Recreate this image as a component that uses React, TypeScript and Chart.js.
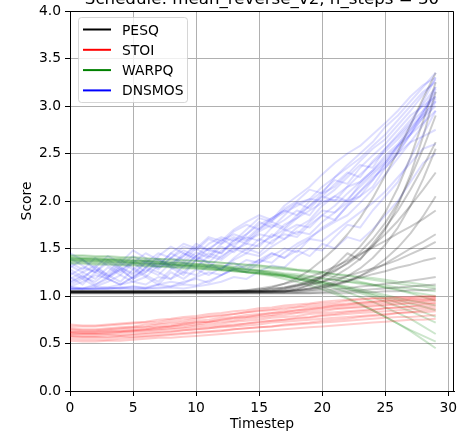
import React, { useEffect, useRef } from "react";
import { Chart, registerables } from "chart.js";

Chart.register(...registerables);

const TITLE = "Schedule: mean_reverse_v2, n_steps = 30";
const X_LABEL = "Timestep";
const Y_LABEL = "Score";
const METRICS = ["PESQ", "STOI", "WARPQ", "DNSMOS"];

const TIMESTEPS = [0, 1, 2, 3, 4, 5, 6, 7, 8, 9, 10, 11, 12, 13, 14, 15, 16, 17, 18, 19, 20, 21, 22, 23, 24, 25, 26, 27, 28, 29];

const PESQ_RUNS = [
  [1.04, 1.04, 1.04, 1.04, 1.04, 1.04, 1.04, 1.04, 1.04, 1.05, 1.05, 1.05, 1.05, 1.05, 1.05, 1.06, 1.09, 1.13, 1.19, 1.27, 1.38, 1.5, 1.65, 1.82, 2.03, 2.27, 2.52, 2.8, 3.08, 3.35],
  [1.04, 1.04, 1.04, 1.04, 1.04, 1.04, 1.04, 1.04, 1.04, 1.04, 1.04, 1.04, 1.05, 1.05, 1.05, 1.05, 1.06, 1.08, 1.11, 1.15, 1.21, 1.29, 1.39, 1.52, 1.68, 1.88, 2.14, 2.46, 2.84, 3.25],
  [1.05, 1.05, 1.05, 1.05, 1.05, 1.05, 1.05, 1.05, 1.05, 1.05, 1.05, 1.05, 1.05, 1.05, 1.05, 1.05, 1.05, 1.06, 1.08, 1.11, 1.15, 1.21, 1.29, 1.39, 1.52, 1.7, 1.95, 2.28, 2.68, 3.15],
  [1.04, 1.04, 1.04, 1.04, 1.04, 1.04, 1.04, 1.04, 1.04, 1.04, 1.04, 1.04, 1.04, 1.04, 1.04, 1.04, 1.05, 1.07, 1.1, 1.14, 1.19, 1.26, 1.35, 1.46, 1.6, 1.77, 1.98, 2.24, 2.55, 2.9],
  [1.05, 1.05, 1.05, 1.05, 1.05, 1.05, 1.05, 1.05, 1.05, 1.05, 1.05, 1.05, 1.05, 1.05, 1.05, 1.05, 1.05, 1.05, 1.06, 1.08, 1.11, 1.15, 1.21, 1.29, 1.4, 1.54, 1.72, 1.95, 2.23, 2.55],
  [1.04, 1.04, 1.04, 1.04, 1.04, 1.04, 1.04, 1.04, 1.04, 1.04, 1.04, 1.04, 1.04, 1.04, 1.04, 1.05, 1.07, 1.09, 1.12, 1.16, 1.21, 1.27, 1.34, 1.43, 1.53, 1.65, 1.79, 1.95, 2.12, 2.3],
  [1.05, 1.05, 1.05, 1.05, 1.05, 1.05, 1.05, 1.05, 1.05, 1.05, 1.05, 1.05, 1.05, 1.05, 1.05, 1.05, 1.05, 1.05, 1.05, 1.06, 1.08, 1.11, 1.15, 1.21, 1.29, 1.39, 1.51, 1.66, 1.84, 2.05],
  [1.04, 1.04, 1.04, 1.04, 1.04, 1.04, 1.04, 1.04, 1.04, 1.04, 1.04, 1.04, 1.04, 1.05, 1.06, 1.08, 1.1, 1.13, 1.16, 1.2, 1.25, 1.31, 1.37, 1.44, 1.51, 1.58, 1.66, 1.73, 1.81, 1.9],
  [1.05, 1.05, 1.05, 1.05, 1.05, 1.05, 1.05, 1.05, 1.05, 1.05, 1.05, 1.05, 1.05, 1.05, 1.05, 1.05, 1.05, 1.05, 1.06, 1.07, 1.09, 1.12, 1.16, 1.21, 1.27, 1.34, 1.42, 1.5, 1.57, 1.65],
  [1.04, 1.04, 1.04, 1.04, 1.04, 1.04, 1.04, 1.04, 1.04, 1.04, 1.04, 1.04, 1.04, 1.04, 1.04, 1.04, 1.04, 1.05, 1.06, 1.08, 1.1, 1.13, 1.16, 1.19, 1.23, 1.26, 1.3, 1.33, 1.37, 1.4],
  [1.04, 1.04, 1.04, 1.04, 1.04, 1.04, 1.04, 1.04, 1.04, 1.04, 1.04, 1.04, 1.04, 1.04, 1.04, 1.04, 1.04, 1.04, 1.04, 1.05, 1.06, 1.07, 1.08, 1.1, 1.11, 1.13, 1.14, 1.16, 1.18, 1.2],
  [1.03, 1.03, 1.03, 1.03, 1.03, 1.03, 1.03, 1.03, 1.03, 1.03, 1.03, 1.03, 1.03, 1.03, 1.03, 1.03, 1.03, 1.03, 1.03, 1.03, 1.04, 1.05, 1.05, 1.06, 1.07, 1.08, 1.09, 1.1, 1.11, 1.12],
  [1.03, 1.03, 1.03, 1.03, 1.03, 1.03, 1.03, 1.03, 1.03, 1.03, 1.03, 1.03, 1.03, 1.03, 1.03, 1.03, 1.03, 1.03, 1.03, 1.03, 1.03, 1.03, 1.03, 1.04, 1.04, 1.05, 1.05, 1.06, 1.06, 1.07],
  [1.04, 1.04, 1.04, 1.04, 1.04, 1.04, 1.04, 1.04, 1.04, 1.04, 1.04, 1.04, 1.04, 1.04, 1.04, 1.04, 1.04, 1.04, 1.07, 1.12, 1.2, 1.32, 1.45, 1.38, 1.55, 1.72, 1.9, 2.12, 2.36, 2.62],
  [1.05, 1.05, 1.05, 1.05, 1.05, 1.05, 1.05, 1.05, 1.05, 1.05, 1.05, 1.05, 1.05, 1.05, 1.06, 1.07, 1.08, 1.09, 1.11, 1.13, 1.15, 1.18, 1.21, 1.25, 1.29, 1.33, 1.38, 1.44, 1.5, 1.57],
];

const STOI_RUNS = [
  [0.62, 0.61, 0.61, 0.62, 0.63, 0.64, 0.65, 0.67, 0.68, 0.7, 0.72, 0.73, 0.75, 0.77, 0.78, 0.8, 0.82, 0.83, 0.85, 0.87, 0.88, 0.9, 0.91, 0.93, 0.94, 0.95, 0.96, 0.97, 0.97, 0.98],
  [0.68, 0.68, 0.68, 0.69, 0.7, 0.71, 0.72, 0.73, 0.75, 0.76, 0.77, 0.79, 0.8, 0.81, 0.83, 0.84, 0.85, 0.86, 0.88, 0.89, 0.9, 0.91, 0.92, 0.93, 0.94, 0.95, 0.95, 0.96, 0.96, 0.97],
  [0.58, 0.57, 0.57, 0.57, 0.58, 0.59, 0.6, 0.61, 0.62, 0.64, 0.65, 0.66, 0.68, 0.69, 0.71, 0.72, 0.74, 0.75, 0.77, 0.78, 0.8, 0.81, 0.83, 0.84, 0.85, 0.87, 0.88, 0.89, 0.91, 0.92],
  [0.64, 0.63, 0.63, 0.64, 0.65, 0.66, 0.67, 0.68, 0.69, 0.71, 0.72, 0.73, 0.75, 0.76, 0.78, 0.79, 0.8, 0.82, 0.83, 0.85, 0.86, 0.87, 0.88, 0.89, 0.9, 0.91, 0.92, 0.93, 0.94, 0.95],
  [0.55, 0.54, 0.54, 0.54, 0.55, 0.56, 0.57, 0.58, 0.59, 0.6, 0.61, 0.62, 0.63, 0.65, 0.66, 0.67, 0.68, 0.7, 0.71, 0.72, 0.74, 0.75, 0.76, 0.78, 0.79, 0.8, 0.82, 0.83, 0.85, 0.86],
  [0.6, 0.6, 0.6, 0.61, 0.62, 0.63, 0.64, 0.65, 0.66, 0.67, 0.69, 0.7, 0.71, 0.73, 0.74, 0.75, 0.77, 0.78, 0.79, 0.81, 0.82, 0.83, 0.84, 0.85, 0.86, 0.87, 0.88, 0.89, 0.89, 0.9],
  [0.66, 0.65, 0.65, 0.66, 0.67, 0.68, 0.7, 0.71, 0.73, 0.74, 0.76, 0.78, 0.79, 0.81, 0.83, 0.85, 0.86, 0.88, 0.89, 0.91, 0.92, 0.93, 0.95, 0.96, 0.97, 0.97, 0.98, 0.98, 0.99, 0.99],
  [0.57, 0.56, 0.56, 0.56, 0.57, 0.57, 0.58, 0.59, 0.6, 0.61, 0.62, 0.63, 0.64, 0.65, 0.66, 0.67, 0.68, 0.69, 0.7, 0.71, 0.72, 0.73, 0.74, 0.75, 0.76, 0.77, 0.78, 0.78, 0.79, 0.8],
  [0.62, 0.62, 0.62, 0.63, 0.63, 0.64, 0.65, 0.66, 0.68, 0.69, 0.7, 0.72, 0.73, 0.74, 0.76, 0.77, 0.79, 0.8, 0.82, 0.83, 0.84, 0.86, 0.87, 0.88, 0.89, 0.9, 0.91, 0.92, 0.92, 0.93],
  [0.53, 0.52, 0.52, 0.53, 0.53, 0.54, 0.55, 0.56, 0.56, 0.57, 0.58, 0.59, 0.6, 0.61, 0.62, 0.63, 0.64, 0.65, 0.66, 0.67, 0.68, 0.69, 0.7, 0.71, 0.72, 0.73, 0.74, 0.75, 0.75, 0.76],
  [0.7, 0.69, 0.69, 0.7, 0.71, 0.72, 0.73, 0.75, 0.76, 0.78, 0.79, 0.81, 0.82, 0.84, 0.85, 0.87, 0.88, 0.9, 0.91, 0.92, 0.94, 0.95, 0.96, 0.97, 0.98, 0.98, 0.99, 0.99, 1.0, 1.0],
  [0.61, 0.6, 0.6, 0.6, 0.61, 0.62, 0.63, 0.64, 0.65, 0.66, 0.67, 0.68, 0.69, 0.7, 0.71, 0.73, 0.74, 0.75, 0.76, 0.77, 0.79, 0.8, 0.81, 0.82, 0.83, 0.84, 0.85, 0.86, 0.87, 0.88],
  [0.59, 0.58, 0.58, 0.59, 0.59, 0.6, 0.61, 0.62, 0.63, 0.64, 0.65, 0.66, 0.67, 0.68, 0.69, 0.7, 0.72, 0.73, 0.74, 0.75, 0.76, 0.77, 0.78, 0.79, 0.8, 0.81, 0.82, 0.83, 0.83, 0.84],
  [0.65, 0.64, 0.64, 0.65, 0.66, 0.67, 0.68, 0.7, 0.71, 0.72, 0.74, 0.75, 0.77, 0.78, 0.8, 0.81, 0.82, 0.84, 0.85, 0.86, 0.88, 0.89, 0.9, 0.91, 0.92, 0.93, 0.94, 0.95, 0.95, 0.96],
];

const WARPQ_RUNS = [
  [1.42, 1.42, 1.41, 1.41, 1.4, 1.4, 1.39, 1.39, 1.38, 1.37, 1.37, 1.36, 1.35, 1.34, 1.33, 1.32, 1.31, 1.3, 1.28, 1.27, 1.25, 1.23, 1.21, 1.19, 1.17, 1.15, 1.13, 1.11, 1.1, 1.08],
  [1.4, 1.4, 1.39, 1.39, 1.38, 1.37, 1.37, 1.36, 1.35, 1.34, 1.33, 1.32, 1.31, 1.29, 1.28, 1.26, 1.24, 1.21, 1.18, 1.14, 1.1, 1.04, 0.98, 0.92, 0.85, 0.78, 0.71, 0.63, 0.54, 0.45],
  [1.38, 1.38, 1.37, 1.37, 1.36, 1.35, 1.35, 1.34, 1.33, 1.32, 1.31, 1.3, 1.29, 1.28, 1.26, 1.25, 1.23, 1.21, 1.18, 1.15, 1.12, 1.08, 1.04, 0.99, 0.94, 0.88, 0.82, 0.76, 0.68, 0.6],
  [1.36, 1.36, 1.35, 1.35, 1.34, 1.34, 1.33, 1.32, 1.31, 1.31, 1.3, 1.29, 1.28, 1.27, 1.25, 1.24, 1.22, 1.2, 1.18, 1.16, 1.13, 1.11, 1.08, 1.05, 1.02, 0.99, 0.96, 0.92, 0.89, 0.85],
  [1.43, 1.43, 1.42, 1.42, 1.41, 1.41, 1.4, 1.39, 1.39, 1.38, 1.37, 1.36, 1.35, 1.34, 1.33, 1.32, 1.3, 1.29, 1.27, 1.25, 1.23, 1.2, 1.18, 1.15, 1.12, 1.09, 1.06, 1.03, 0.99, 0.95],
  [1.34, 1.34, 1.33, 1.33, 1.32, 1.32, 1.31, 1.31, 1.3, 1.29, 1.29, 1.28, 1.27, 1.26, 1.25, 1.24, 1.23, 1.22, 1.21, 1.2, 1.18, 1.17, 1.15, 1.14, 1.12, 1.11, 1.09, 1.08, 1.06, 1.05],
  [1.39, 1.39, 1.38, 1.38, 1.37, 1.36, 1.36, 1.35, 1.34, 1.33, 1.32, 1.31, 1.3, 1.29, 1.27, 1.26, 1.24, 1.22, 1.19, 1.17, 1.14, 1.1, 1.07, 1.03, 0.99, 0.94, 0.89, 0.84, 0.78, 0.72],
  [1.41, 1.4, 1.4, 1.39, 1.39, 1.38, 1.37, 1.37, 1.36, 1.35, 1.34, 1.33, 1.32, 1.3, 1.29, 1.27, 1.25, 1.23, 1.21, 1.18, 1.15, 1.12, 1.09, 1.05, 1.01, 0.97, 0.93, 0.88, 0.83, 0.78],
  [1.37, 1.37, 1.36, 1.36, 1.35, 1.35, 1.34, 1.34, 1.33, 1.32, 1.32, 1.31, 1.3, 1.29, 1.28, 1.27, 1.26, 1.24, 1.23, 1.21, 1.19, 1.17, 1.15, 1.13, 1.11, 1.09, 1.07, 1.04, 1.02, 1.0],
  [1.35, 1.35, 1.34, 1.34, 1.33, 1.33, 1.32, 1.31, 1.31, 1.3, 1.29, 1.28, 1.27, 1.26, 1.25, 1.24, 1.22, 1.21, 1.19, 1.17, 1.15, 1.12, 1.1, 1.07, 1.04, 1.01, 0.98, 0.95, 0.93, 0.9],
  [1.4, 1.39, 1.39, 1.38, 1.38, 1.37, 1.37, 1.36, 1.35, 1.35, 1.34, 1.33, 1.32, 1.31, 1.31, 1.3, 1.29, 1.28, 1.27, 1.26, 1.25, 1.23, 1.22, 1.2, 1.19, 1.17, 1.15, 1.14, 1.12, 1.1],
  [1.38, 1.37, 1.37, 1.36, 1.36, 1.35, 1.34, 1.34, 1.33, 1.32, 1.31, 1.3, 1.28, 1.27, 1.25, 1.23, 1.21, 1.18, 1.15, 1.11, 1.07, 1.02, 0.97, 0.91, 0.85, 0.78, 0.71, 0.64, 0.58, 0.52],
];

const DNSMOS_RUNS = [
  [1.07, 1.07, 1.08, 1.07, 1.08, 1.07, 1.08, 1.08, 1.09, 1.08, 1.1, 1.12, 1.15, 1.2, 1.18, 1.26, 1.32, 1.3, 1.42, 1.5, 1.48, 1.62, 1.75, 1.72, 1.9, 2.05, 2.2, 2.45, 2.7, 2.95],
  [1.08, 1.08, 1.07, 1.08, 1.09, 1.08, 1.08, 1.09, 1.1, 1.12, 1.11, 1.16, 1.22, 1.28, 1.25, 1.35, 1.42, 1.5, 1.46, 1.6, 1.72, 1.8, 1.95, 2.05, 2.15, 2.35, 2.5, 2.7, 2.95, 3.2],
  [1.25, 1.18, 1.3, 1.22, 1.35, 1.28, 1.2, 1.32, 1.45, 1.38, 1.5, 1.42, 1.55, 1.62, 1.58, 1.7, 1.78, 1.72, 1.85, 1.95, 2.05, 2.0, 2.15, 2.28, 2.4, 2.52, 2.65, 2.8, 3.05, 3.3],
  [1.4, 1.32, 1.25, 1.38, 1.3, 1.22, 1.35, 1.45, 1.4, 1.52, 1.48, 1.6, 1.55, 1.68, 1.75, 1.7, 1.82, 1.9, 1.85, 2.0, 2.1, 2.22, 2.18, 2.35, 2.48, 2.6, 2.75, 2.9, 3.0, 3.1],
  [1.15, 1.22, 1.12, 1.2, 1.28, 1.18, 1.25, 1.35, 1.3, 1.22, 1.38, 1.45, 1.4, 1.52, 1.48, 1.6, 1.55, 1.68, 1.75, 1.72, 1.85, 1.95, 2.08, 2.2, 2.32, 2.45, 2.58, 2.7, 2.82, 2.95],
  [1.1, 1.15, 1.22, 1.18, 1.12, 1.2, 1.3, 1.25, 1.18, 1.32, 1.42, 1.35, 1.28, 1.4, 1.5, 1.45, 1.58, 1.65, 1.62, 1.75, 1.85, 1.8, 1.95, 2.1, 2.25, 2.35, 2.5, 2.62, 2.68, 2.75],
  [1.3, 1.38, 1.28, 1.2, 1.32, 1.42, 1.35, 1.28, 1.4, 1.48, 1.42, 1.55, 1.62, 1.58, 1.7, 1.82, 1.78, 1.92, 2.0, 2.12, 2.08, 2.25, 2.38, 2.5, 2.62, 2.78, 2.9, 3.05, 3.2, 3.35],
  [1.07, 1.08, 1.08, 1.09, 1.08, 1.1, 1.09, 1.12, 1.15, 1.13, 1.2, 1.25, 1.22, 1.3, 1.38, 1.35, 1.45, 1.4, 1.52, 1.6, 1.58, 1.68, 1.78, 1.88, 1.98, 2.1, 2.25, 2.4, 2.55, 2.6],
  [1.2, 1.12, 1.25, 1.35, 1.28, 1.18, 1.3, 1.4, 1.32, 1.25, 1.38, 1.3, 1.42, 1.5, 1.45, 1.55, 1.62, 1.7, 1.65, 1.78, 1.9, 1.88, 2.02, 2.15, 2.28, 2.4, 2.55, 2.72, 2.88, 3.0],
  [1.35, 1.28, 1.4, 1.32, 1.25, 1.38, 1.3, 1.42, 1.52, 1.45, 1.38, 1.5, 1.58, 1.65, 1.6, 1.72, 1.8, 1.88, 1.95, 2.02, 2.15, 2.25, 2.35, 2.45, 2.58, 2.7, 2.85, 3.0, 3.15, 3.25],
  [1.12, 1.18, 1.1, 1.15, 1.22, 1.15, 1.2, 1.12, 1.25, 1.18, 1.28, 1.22, 1.3, 1.35, 1.28, 1.38, 1.45, 1.4, 1.48, 1.42, 1.55, 1.5, 1.62, 1.58, 1.7, 1.85, 2.0, 2.2, 2.4, 2.5],
  [1.08, 1.07, 1.08, 1.08, 1.09, 1.1, 1.08, 1.12, 1.1, 1.15, 1.18, 1.14, 1.22, 1.28, 1.32, 1.38, 1.35, 1.46, 1.55, 1.62, 1.7, 1.78, 1.85, 1.98, 2.12, 2.28, 2.45, 2.62, 2.8, 3.05],
  [1.28, 1.2, 1.15, 1.25, 1.38, 1.3, 1.22, 1.15, 1.28, 1.35, 1.3, 1.42, 1.38, 1.48, 1.55, 1.52, 1.65, 1.6, 1.72, 1.8, 1.95, 2.05, 2.0, 2.18, 2.3, 2.42, 2.58, 2.75, 2.92, 3.15],
  [1.18, 1.25, 1.32, 1.22, 1.15, 1.28, 1.38, 1.3, 1.35, 1.42, 1.55, 1.48, 1.6, 1.52, 1.65, 1.78, 1.72, 1.85, 1.98, 1.92, 2.05, 2.18, 2.3, 2.25, 2.42, 2.55, 2.68, 2.82, 2.95, 3.1],
  [1.1, 1.08, 1.12, 1.18, 1.12, 1.2, 1.28, 1.22, 1.35, 1.3, 1.42, 1.5, 1.45, 1.58, 1.65, 1.75, 1.82, 1.9, 1.98, 2.02, 2.0, 2.01, 2.0, 2.05, 2.22, 2.4, 2.58, 2.75, 2.9, 3.05],
  [1.45, 1.38, 1.3, 1.42, 1.35, 1.48, 1.4, 1.32, 1.45, 1.55, 1.5, 1.62, 1.58, 1.7, 1.78, 1.85, 1.8, 1.95, 2.05, 2.15, 2.28, 2.4, 2.5, 2.58, 2.7, 2.82, 2.95, 3.1, 3.22, 3.3],
  [1.22, 1.3, 1.25, 1.18, 1.28, 1.35, 1.25, 1.38, 1.32, 1.45, 1.4, 1.35, 1.48, 1.55, 1.62, 1.58, 1.72, 1.8, 1.9, 1.85, 2.02, 2.12, 2.25, 2.38, 2.35, 2.55, 2.7, 2.85, 3.02, 3.2],
  [1.32, 1.25, 1.18, 1.3, 1.22, 1.35, 1.45, 1.38, 1.3, 1.42, 1.52, 1.48, 1.45, 1.6, 1.55, 1.68, 1.75, 1.7, 1.82, 1.95, 2.08, 2.15, 2.28, 2.42, 2.55, 2.65, 2.8, 2.95, 3.12, 3.28],
  [1.09, 1.08, 1.1, 1.09, 1.12, 1.15, 1.12, 1.2, 1.18, 1.25, 1.22, 1.32, 1.28, 1.38, 1.45, 1.42, 1.52, 1.6, 1.68, 1.65, 1.78, 1.88, 1.98, 2.1, 2.22, 2.38, 2.52, 2.7, 2.88, 3.08],
  [1.14, 1.2, 1.28, 1.2, 1.3, 1.24, 1.36, 1.3, 1.4, 1.35, 1.46, 1.4, 1.52, 1.46, 1.58, 1.65, 1.62, 1.75, 1.82, 1.9, 1.98, 2.05, 2.15, 2.2, 2.32, 2.48, 2.6, 2.78, 2.92, 3.18],
];

const FONT = '"DejaVu Sans", "Liberation Sans", sans-serif';
const SIZE = 13.89;

export default function App() {
  const ref = useRef<HTMLCanvasElement>(null);

  useEffect(() => {
    if (!ref.current) return;
    const groups = [
      { label: METRICS[0], runs: PESQ_RUNS, line: "rgba(0,0,0,0.2)", solid: "#000000" },
      { label: METRICS[1], runs: STOI_RUNS, line: "rgba(255,0,0,0.2)", solid: "#ff0000" },
      { label: METRICS[2], runs: WARPQ_RUNS, line: "rgba(0,128,0,0.2)", solid: "#008000" },
      { label: METRICS[3], runs: DNSMOS_RUNS, line: "rgba(0,0,255,0.13)", solid: "#0000ff" },
    ];
    const datasets: any[] = [];
    groups.forEach((g) =>
      g.runs.forEach((run) =>
        datasets.push({
          label: g.label,
          data: run.map((v, i) => ({ x: TIMESTEPS[i], y: v })),
          borderColor: g.line,
          borderWidth: 2,
          pointRadius: 0,
          fill: false,
          tension: 0,
          borderJoinStyle: "round",
        })
      )
    );

    const decor = {
      id: "decor",
      afterDraw(chart: any) {
        const ctx = chart.ctx;
        const ca = chart.chartArea;
        ctx.save();
        // top & right spines
        ctx.strokeStyle = "#000";
        ctx.lineWidth = 1;
        ctx.beginPath();
        ctx.moveTo(ca.left, ca.top + 0.5);
        ctx.lineTo(ca.right - 0.5, ca.top + 0.5);
        ctx.lineTo(ca.right - 0.5, ca.bottom);
        ctx.stroke();
        // title (clipped at top like the reference)
        ctx.fillStyle = "#000";
        ctx.font = `16.67px ${FONT}`;
        ctx.textAlign = "center";
        ctx.textBaseline = "alphabetic";
        ctx.fillText(TITLE, (ca.left + ca.right) / 2, 3.5);
        // legend
        const bx = 78.5, by = 17.5, bw = 109, bh = 85, r = 3;
        ctx.beginPath();
        ctx.moveTo(bx + r, by);
        ctx.lineTo(bx + bw - r, by);
        ctx.quadraticCurveTo(bx + bw, by, bx + bw, by + r);
        ctx.lineTo(bx + bw, by + bh - r);
        ctx.quadraticCurveTo(bx + bw, by + bh, bx + bw - r, by + bh);
        ctx.lineTo(bx + r, by + bh);
        ctx.quadraticCurveTo(bx, by + bh, bx, by + bh - r);
        ctx.lineTo(bx, by + r);
        ctx.quadraticCurveTo(bx, by, bx + r, by);
        ctx.closePath();
        ctx.fillStyle = "rgba(255,255,255,0.8)";
        ctx.fill();
        ctx.strokeStyle = "rgba(204,204,204,0.8)";
        ctx.stroke();
        ctx.font = `${SIZE}px ${FONT}`;
        ctx.textAlign = "left";
        groups.forEach((g, i) => {
          const y = 29.5 + i * 20.3;
          ctx.strokeStyle = g.solid;
          ctx.lineWidth = 2;
          ctx.beginPath();
          ctx.moveTo(83, y);
          ctx.lineTo(111, y);
          ctx.stroke();
          ctx.fillStyle = "#000";
          ctx.fillText(g.label, 122, y + 5);
        });
        ctx.restore();
      },
    };

    const gridOpts = { color: "#b0b0b0", lineWidth: 1, tickLength: 5, tickColor: "#000", tickWidth: 1 };
    const chart = new Chart(ref.current, {
      type: "line",
      data: { datasets },
      options: {
        animation: false,
        responsive: false,
        devicePixelRatio: 1,
        events: [],
        layout: { padding: { top: 11, right: 12, left: 0, bottom: 0 } },
        plugins: { legend: { display: false }, tooltip: { enabled: false }, title: { display: false } },
        scales: {
          x: {
            type: "linear",
            min: 0,
            max: 30.45,
            afterFit: (s: any) => {
              s.height = 43;
              s.paddingLeft = 0;
              s.paddingRight = 0;
            },
            ticks: {
              stepSize: 5,
              includeBounds: false,
              autoSkip: false,
              maxRotation: 0,
              padding: 4.5,
              color: "#000",
              font: { family: FONT, size: SIZE },
              callback: (v: any) => String(v),
            },
            grid: gridOpts,
            border: { color: "#000", width: 1 },
            title: { display: true, text: X_LABEL, color: "#000", font: { family: FONT, size: SIZE }, padding: { top: 0, bottom: 1 } },
          },
          y: {
            type: "linear",
            min: 0,
            max: 4,
            afterFit: (s: any) => {
              s.width = 70;
              s.paddingTop = 0;
              s.paddingBottom = 0;
            },
            ticks: {
              stepSize: 0.5,
              includeBounds: false,
              padding: 4,
              color: "#000",
              font: { family: FONT, size: SIZE },
              callback: (v: any) => Number(v).toFixed(1),
            },
            grid: gridOpts,
            border: { color: "#000", width: 1 },
            title: { display: true, text: Y_LABEL, color: "#000", font: { family: FONT, size: SIZE }, padding: { top: 18.7, bottom: 0 } },
          },
        },
      } as any,
      plugins: [decor],
    });
    return () => chart.destroy();
  }, []);

  return (
    <div style={{ position: "fixed", left: 0, top: 0, width: 466, height: 434, background: "#fff" }}>
      <canvas ref={ref} width={466} height={434} style={{ width: 466, height: 434, display: "block" }} />
    </div>
  );
}
